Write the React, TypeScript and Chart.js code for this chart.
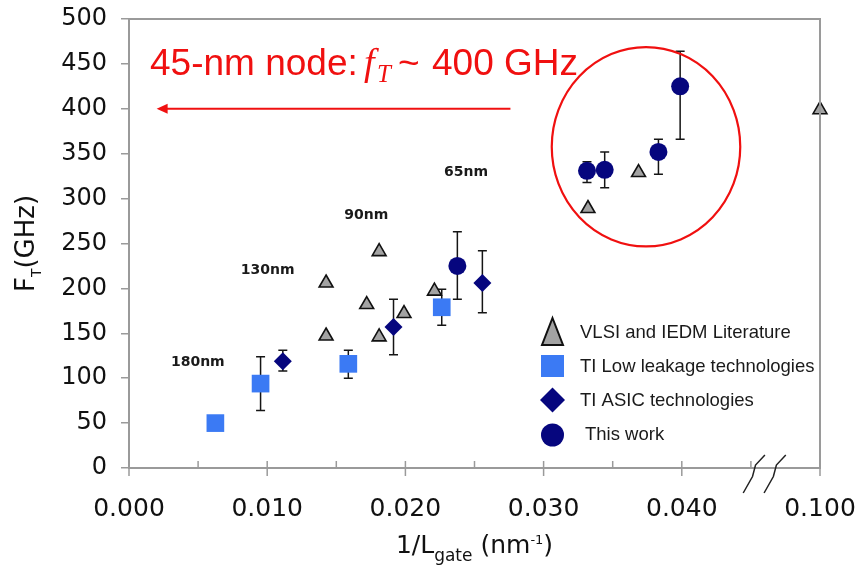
import React, { useEffect, useRef } from "react";
import { Chart, registerables } from "chart.js";

Chart.register(...registerables);

// ---------- data ----------
const seriesNames = [
  "VLSI and IEDM Literature",
  "TI Low leakage technologies",
  "TI ASIC technologies",
  "This work",
];

const vlsiX = [0.01426, 0.0172, 0.01426, 0.0181, 0.0181, 0.0199, 0.0221, 0.03321, 0.03687, 0.1];
const vlsiY = [206, 182, 147, 241, 146, 172, 197, 289, 329, 399];

const lowLeakX = [0.00625, 0.00952, 0.01587, 0.02263];
const lowLeakY = [50, 94, 116, 179];
const lowLeakLo = [null, 64, 100, 159];
const lowLeakHi = [null, 124, 131, 199];

const asicX = [0.01113, 0.01914, 0.02557];
const asicY = [119, 157, 206];
const asicLo = [108, 126, 173];
const asicHi = [131, 188, 242];

const thisWorkX = [0.02376, 0.03314, 0.03442, 0.03831, 0.03988];
const thisWorkY = [225, 331, 332, 352, 425];
const thisWorkLo = [188, 318, 312, 327, 366];
const thisWorkHi = [263, 341, 352, 366, 464];

const nodeLabels = ["180nm", "130nm", "90nm", "65nm"];
const nodeLabelX = [0.00498, 0.01003, 0.01717, 0.02439];
const nodeLabelY = [118, 220, 281, 329];

const xTickLabels = ["0.000", "", "0.010", "", "0.020", "", "0.030", "", "0.040", "", "0.100"];
const xMin = 0;
const xMax = 0.05;
const xStep = 0.005;
const xBreak = 0.045; // values past the axis break are drawn at the axis end
const yMin = 0;
const yMax = 500;
const yStep = 50;

const targetFt = 400; // arrow level
const arrowFromX = 0.0276;
const arrowToX = 0.002;

// ---------- styles ----------
const NAVY = "#06067e";
const LIGHT_BLUE = "#3b7af4";
const TRI_FILL = "#a3a3a3";
const AXIS_GREY = "#9a9a9a";
const RED = "#f01010";
const SANS = "'Liberation Sans', Arial, sans-serif";
const WIDE = "'DejaVu Sans', sans-serif";

const bx = (v: number) => (v > xBreak ? xMax : v);
const pts = (xs: number[], ys: number[]) => xs.map((x, i) => ({ x: bx(x), y: ys[i] }));

const errorBars: any[] = [
  null,
  { lo: lowLeakLo, hi: lowLeakHi },
  { lo: asicLo, hi: asicHi },
  { lo: thisWorkLo, hi: thisWorkHi },
];

function drawRich(ctx: CanvasRenderingContext2D, parts: { t: string; font: string; dy: number }[], cx: number, baseY: number) {
  let total = 0;
  parts.forEach((p) => {
    ctx.font = p.font;
    total += ctx.measureText(p.t).width;
  });
  let x = cx - total / 2;
  ctx.textAlign = "left";
  ctx.textBaseline = "alphabetic";
  parts.forEach((p) => {
    ctx.font = p.font;
    ctx.fillText(p.t, x, baseY + p.dy);
    x += ctx.measureText(p.t).width;
  });
}

const annotPlugin = {
  id: "annot",
  beforeDatasetsDraw(chart: any) {
    const ctx = chart.ctx as CanvasRenderingContext2D;
    const ys = chart.scales.y;
    ctx.save();
    ctx.strokeStyle = "#151515";
    ctx.lineWidth = 1.5;
    errorBars.forEach((eb, di) => {
      if (!eb) return;
      const meta = chart.getDatasetMeta(di);
      meta.data.forEach((el: any, j: number) => {
        const lo = eb.lo[j];
        const hi = eb.hi[j];
        if (lo == null || hi == null) return;
        const px = el.x;
        const pLo = ys.getPixelForValue(lo);
        const pHi = ys.getPixelForValue(hi);
        ctx.beginPath();
        ctx.moveTo(px, pLo);
        ctx.lineTo(px, pHi);
        ctx.moveTo(px - 4.5, pLo);
        ctx.lineTo(px + 4.5, pLo);
        ctx.moveTo(px - 4.5, pHi);
        ctx.lineTo(px + 4.5, pHi);
        ctx.stroke();
      });
    });
    ctx.restore();
  },
  afterDraw(chart: any) {
    const ctx = chart.ctx as CanvasRenderingContext2D;
    const xs = chart.scales.x;
    const ys = chart.scales.y;
    const ca = chart.chartArea;
    ctx.save();

    // frame top / right
    ctx.strokeStyle = AXIS_GREY;
    ctx.lineWidth = 2;
    ctx.beginPath();
    ctx.moveTo(ca.left, ca.top);
    ctx.lineTo(ca.right, ca.top);
    ctx.lineTo(ca.right, ca.bottom);
    ctx.stroke();

    // x tick marks (major cross the axis, minor point inward)
    ctx.lineWidth = 1.5;
    xs.ticks.forEach((t: any, i: number) => {
      const px = xs.getPixelForValue(t.value);
      const major = (xTickLabels[i] ?? "") !== "";
      ctx.beginPath();
      ctx.moveTo(px, ca.bottom - 7);
      ctx.lineTo(px, major ? ca.bottom + 8 : ca.bottom);
      ctx.stroke();
    });

    // axis break marks
    ctx.strokeStyle = "#222";
    ctx.lineWidth = 1.5;
    [0.04524, 0.04675].forEach((v) => {
      const cx = xs.getPixelForValue(v);
      const cy = ca.bottom;
      ctx.beginPath();
      ctx.moveTo(cx - 11, cy + 25);
      ctx.lineTo(cx - 1.7, cy + 8.5);
      ctx.lineTo(cx + 1.3, cy - 3);
      ctx.lineTo(cx + 10.7, cy - 13);
      ctx.stroke();
    });

    // red highlight ellipse
    const ecx = xs.getPixelForValue(0.03741);
    const ecy = ys.getPixelForValue(357.7);
    const erx = xs.getPixelForValue(0.03741 + 0.00682) - ecx;
    const ery = ys.getPixelForValue(357.7 - 111) - ecy;
    ctx.strokeStyle = RED;
    ctx.lineWidth = 2.2;
    ctx.beginPath();
    ctx.ellipse(ecx, ecy, erx, ery, 0, 0, Math.PI * 2);
    ctx.stroke();

    // arrow
    const ay = ys.getPixelForValue(targetFt);
    const ax0 = xs.getPixelForValue(arrowFromX);
    const ax1 = xs.getPixelForValue(arrowToX);
    ctx.lineWidth = 2;
    ctx.beginPath();
    ctx.moveTo(ax0, ay);
    ctx.lineTo(ax1 + 9, ay);
    ctx.stroke();
    ctx.fillStyle = RED;
    ctx.beginPath();
    ctx.moveTo(ax1, ay);
    ctx.lineTo(ax1 + 11, ay - 5);
    ctx.lineTo(ax1 + 11, ay + 5);
    ctx.closePath();
    ctx.fill();

    // red headline
    ctx.fillStyle = RED;
    ctx.textAlign = "left";
    ctx.textBaseline = "alphabetic";
    ctx.font = `37px ${SANS}`;
    ctx.fillText("45-nm node:", 150, 75);
    ctx.font = "italic 38px 'Liberation Serif', 'Times New Roman', serif";
    ctx.fillText("f", 364, 75);
    ctx.font = "italic 25px 'Liberation Serif', 'Times New Roman', serif";
    ctx.fillText("T", 377, 82);
    ctx.font = `37px ${SANS}`;
    ctx.fillText("~", 398, 75);
    ctx.fillText("400 GHz", 432, 75);

    // node labels
    ctx.fillStyle = "#1a1a1a";
    ctx.font = `bold 14px ${WIDE}`;
    ctx.textAlign = "center";
    ctx.textBaseline = "middle";
    nodeLabels.forEach((s, i) => {
      ctx.fillText(s, xs.getPixelForValue(nodeLabelX[i]), ys.getPixelForValue(nodeLabelY[i]));
    });

    // legend
    const lx = 552.5;
    const ly0 = 332;
    const gap = 34;
    ctx.fillStyle = TRI_FILL;
    ctx.strokeStyle = "#111";
    ctx.lineWidth = 2;
    ctx.beginPath();
    ctx.moveTo(lx, ly0 - 14);
    ctx.lineTo(lx + 10.5, ly0 + 13);
    ctx.lineTo(lx - 10.5, ly0 + 13);
    ctx.closePath();
    ctx.fill();
    ctx.stroke();
    ctx.fillStyle = LIGHT_BLUE;
    ctx.fillRect(lx - 11.5, ly0 + gap - 11, 23, 22);
    ctx.fillStyle = NAVY;
    const dy = ly0 + gap * 2;
    ctx.beginPath();
    ctx.moveTo(lx, dy - 12.5);
    ctx.lineTo(lx + 12.5, dy);
    ctx.lineTo(lx, dy + 12.5);
    ctx.lineTo(lx - 12.5, dy);
    ctx.closePath();
    ctx.fill();
    ctx.beginPath();
    ctx.arc(lx, ly0 + gap * 3 + 1, 11.5, 0, Math.PI * 2);
    ctx.fill();
    ctx.fillStyle = "#1a1a1a";
    ctx.font = `18.5px ${SANS}`;
    ctx.textAlign = "left";
    ctx.textBaseline = "middle";
    seriesNames.forEach((s, i) => {
      ctx.fillText(s, i === 3 ? 585 : 580, ly0 + 1 + gap * i);
    });

    // axis titles
    ctx.fillStyle = "#111";
    drawRich(
      ctx,
      [
        { t: "1/L", font: `25px ${WIDE}`, dy: 0 },
        { t: "gate", font: `17px ${WIDE}`, dy: 8 },
        { t: " (nm", font: `25px ${WIDE}`, dy: 0 },
        { t: "-1", font: `13px ${WIDE}`, dy: -9 },
        { t: ")", font: `25px ${WIDE}`, dy: 0 },
      ],
      (ca.left + ca.right) / 2,
      553
    );
    ctx.save();
    ctx.translate(34, (ca.top + ca.bottom) / 2);
    ctx.rotate(-Math.PI / 2);
    drawRich(
      ctx,
      [
        { t: "F", font: `26px ${WIDE}`, dy: 0 },
        { t: "T", font: `14px ${WIDE}`, dy: 7 },
        { t: "(GHz)", font: `26px ${WIDE}`, dy: 0 },
      ],
      0,
      0
    );
    ctx.restore();

    ctx.restore();
  },
};

export default function App() {
  const ref = useRef<HTMLCanvasElement | null>(null);
  useEffect(() => {
    if (!ref.current) return;
    const chart = new Chart(ref.current, {
      type: "scatter",
      data: {
        datasets: [
          {
            label: seriesNames[0],
            data: pts(vlsiX, vlsiY),
            pointStyle: "triangle",
            pointRadius: 8,
            backgroundColor: TRI_FILL,
            borderColor: "#111",
            borderWidth: 1.6,
            clip: false,
          },
          {
            label: seriesNames[1],
            data: pts(lowLeakX, lowLeakY),
            pointStyle: "rect",
            pointRadius: 12.5,
            backgroundColor: LIGHT_BLUE,
            borderColor: LIGHT_BLUE,
            borderWidth: 0,
            clip: false,
          },
          {
            label: seriesNames[2],
            data: pts(asicX, asicY),
            pointStyle: "rectRot",
            pointRadius: 9,
            backgroundColor: NAVY,
            borderColor: NAVY,
            borderWidth: 0,
            clip: false,
          },
          {
            label: seriesNames[3],
            data: pts(thisWorkX, thisWorkY),
            pointStyle: "circle",
            pointRadius: 9,
            backgroundColor: NAVY,
            borderColor: NAVY,
            borderWidth: 0,
            clip: false,
          },
        ],
      } as any,
      options: {
        responsive: false,
        animation: false,
        events: [],
        layout: { padding: { left: 0, right: 36, top: 19, bottom: 0 } },
        plugins: { legend: { display: false }, tooltip: { enabled: false } },
        scales: {
          x: {
            type: "linear",
            min: xMin,
            max: xMax,
            afterFit: (s: any) => {
              s.height = 97;
              s.paddingLeft = 0;
              s.paddingRight = 0;
            },
            afterBuildTicks: (s: any) => {
              s.ticks = xTickLabels.map((_, i) => ({ value: xMin + i * xStep }));
            },
            ticks: {
              stepSize: xStep,
              autoSkip: false,
              maxRotation: 0,
              callback: (_v: any, i: number) => xTickLabels[i] ?? "",
              font: { family: WIDE, size: 25 },
              color: "#111",
              padding: 26,
            },
            grid: { display: true, drawOnChartArea: false, drawTicks: false },
            border: { display: true, color: AXIS_GREY, width: 2 },
          },
          y: {
            type: "linear",
            min: yMin,
            max: yMax,
            afterFit: (s: any) => {
              s.width = 129;
              s.paddingTop = 0;
              s.paddingBottom = 0;
            },
            ticks: {
              stepSize: yStep,
              font: { family: WIDE, size: 24 },
              color: "#111",
              padding: 14,
            },
            grid: { drawOnChartArea: false, drawTicks: true, tickLength: 8, color: AXIS_GREY, lineWidth: 1.5 },
            border: { display: true, color: AXIS_GREY, width: 2 },
          },
        },
      } as any,
      plugins: [annotPlugin],
    });
    return () => chart.destroy();
  }, []);
  return (
    <div style={{ position: "fixed", left: 0, top: 0, width: 856, height: 565, background: "#fff" }}>
      <canvas ref={ref} width={856} height={565} style={{ display: "block" }} />
    </div>
  );
}
